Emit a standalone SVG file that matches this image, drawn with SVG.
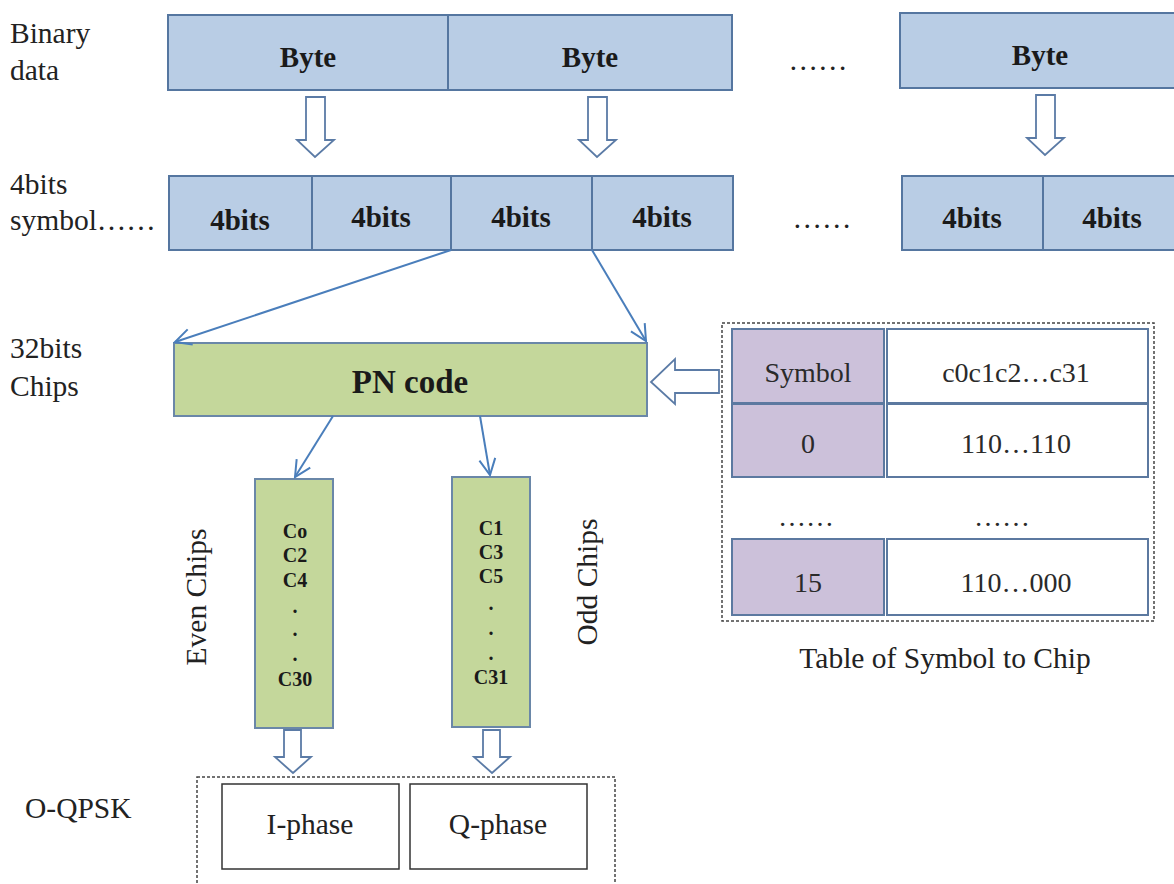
<svg xmlns="http://www.w3.org/2000/svg" width="1174" height="884" viewBox="0 0 1174 884">
  <style>
    .lbl { font-family: 'Liberation Serif', Tinos, 'DejaVu Serif', serif; font-size: 29.5px; fill: #222; }
    .bold { font-family: 'Liberation Serif', Tinos, 'DejaVu Serif', serif; font-weight: bold; fill: #1a1a1a; text-anchor: middle; }
    .cell { font-family: 'Liberation Serif', Tinos, 'DejaVu Serif', serif; font-size: 28px; fill: #2a2a2a; text-anchor: middle; }
    .blue { fill: #b9cde5; stroke: #5576a0; stroke-width: 2; }
    .green { fill: #c4d79b; stroke: #6a87a8; stroke-width: 2; }
    .purple { fill: #ccc1da; stroke: #5c79a0; stroke-width: 2; }
    .white { fill: #ffffff; stroke: #5c79a0; stroke-width: 2; }
    .plain { fill: #ffffff; stroke: #333; stroke-width: 1.5; }
    .hollow { fill: #ffffff; stroke: #5b7ba6; stroke-width: 1.8; stroke-linejoin: miter; }
    .dash { fill: none; stroke: #444; stroke-width: 1.5; stroke-dasharray: 3 2; }
    .link { stroke: #4a7ebb; stroke-width: 2; fill: none; marker-end: url(#vhead); }
  </style>
  <defs>
    <marker id="vhead" viewBox="0 0 20 20" refX="18" refY="10" markerWidth="20" markerHeight="20" markerUnits="userSpaceOnUse" orient="auto">
      <path d="M2,2 L18,10 L2,18" fill="none" stroke="#4a7ebb" stroke-width="2"/>
    </marker>
  </defs>

  <rect width="1174" height="884" fill="#ffffff"/>

  <!-- row labels -->
  <g id="labels">
    <text class="lbl" x="10" y="43">Binary</text>
    <text class="lbl" x="10" y="80">data</text>
    <text class="lbl" x="10" y="194">4bits</text>
    <text class="lbl" x="10" y="230">symbol……</text>
    <text class="lbl" x="10" y="358">32bits</text>
    <text class="lbl" x="10" y="396">Chips</text>
    <text class="lbl" x="25" y="818" font-size="30.5">O-QPSK</text>
  </g>

  <!-- byte row -->
  <g id="byte1">
    <rect class="blue" x="168" y="15" width="280" height="75"/>
    <text class="bold" x="308" y="67" font-size="29">Byte</text>
  </g>
  <g id="byte2">
    <rect class="blue" x="448" y="15" width="284" height="75"/>
    <text class="bold" x="590" y="67" font-size="29">Byte</text>
  </g>
  <text class="lbl" x="818" y="70" text-anchor="middle">……</text>
  <g id="byte3">
    <rect class="blue" x="900" y="13" width="282" height="75"/>
    <text class="bold" x="1040" y="65" font-size="29">Byte</text>
  </g>

  <!-- 4-bit symbol row -->
  <g id="sym1">
    <rect class="blue" x="169" y="176" width="143" height="74"/>
    <text class="bold" x="240" y="230" font-size="29">4bits</text>
  </g>
  <g id="sym2">
    <rect class="blue" x="312" y="176" width="139" height="74"/>
    <text class="bold" x="381" y="227" font-size="29">4bits</text>
  </g>
  <g id="sym3">
    <rect class="blue" x="451" y="176" width="141" height="74"/>
    <text class="bold" x="521" y="227" font-size="29">4bits</text>
  </g>
  <g id="sym4">
    <rect class="blue" x="592" y="176" width="141" height="74"/>
    <text class="bold" x="662" y="227" font-size="29">4bits</text>
  </g>
  <text class="lbl" x="822" y="228" text-anchor="middle">……</text>
  <g id="sym5">
    <rect class="blue" x="902" y="176" width="141" height="74"/>
    <text class="bold" x="972" y="228" font-size="29">4bits</text>
  </g>
  <g id="sym6">
    <rect class="blue" x="1043" y="176" width="140" height="74"/>
    <text class="bold" x="1112" y="228" font-size="29">4bits</text>
  </g>

  <!-- PN code -->
  <g id="pn">
    <rect class="green" x="174" y="343" width="473" height="73"/>
    <text class="bold" x="410" y="393" font-size="33">PN code</text>
  </g>

  <!-- even / odd chip columns -->
  <g id="even">
    <rect class="green" x="255" y="479" width="78" height="249"/>
    <g class="bold" font-size="20">
      <text x="295" y="538">Co</text>
      <text x="295" y="562">C2</text>
      <text x="295" y="587">C4</text>
      <text x="295" y="613">.</text>
      <text x="295" y="636">.</text>
      <text x="295" y="661">.</text>
      <text x="295" y="686">C30</text>
    </g>
    <text class="lbl" font-size="35" text-anchor="middle" transform="translate(206,597) rotate(-90)">Even Chips</text>
  </g>
  <g id="odd">
    <rect class="green" x="452" y="477" width="78" height="250"/>
    <g class="bold" font-size="20">
      <text x="491" y="535">C1</text>
      <text x="491" y="559">C3</text>
      <text x="491" y="583">C5</text>
      <text x="491" y="610">.</text>
      <text x="491" y="635">.</text>
      <text x="491" y="660">.</text>
      <text x="491" y="684">C31</text>
    </g>
    <text class="lbl" font-size="35" text-anchor="middle" transform="translate(597,582) rotate(-90)">Odd Chips</text>
  </g>

  <!-- O-QPSK -->
  <g id="oqpsk">
    <rect class="dash" x="197" y="777" width="418" height="120"/>
    <rect class="plain" x="222" y="784" width="177" height="85"/>
    <text class="lbl" x="310" y="834" text-anchor="middle" font-size="29">I-phase</text>
    <rect class="plain" x="410" y="784" width="177" height="85"/>
    <text class="lbl" x="498" y="834" text-anchor="middle" font-size="29">Q-phase</text>
  </g>

  <!-- symbol-to-chip table -->
  <g id="table">
    <rect class="dash" x="722" y="323" width="432" height="298"/>
    <rect class="purple" x="732" y="329" width="152" height="74"/>
    <rect class="white" x="887" y="329" width="261" height="74"/>
    <rect class="purple" x="732" y="404" width="152" height="73"/>
    <rect class="white" x="887" y="404" width="261" height="73"/>
    <rect class="purple" x="732" y="539" width="152" height="76"/>
    <rect class="white" x="887" y="539" width="261" height="76"/>
    <text class="cell" x="808" y="382">Symbol</text>
    <text class="cell" x="1016" y="382">c0c1c2…c31</text>
    <text class="cell" x="808" y="453">0</text>
    <text class="cell" x="1016" y="453">110…110</text>
    <text class="cell" x="806" y="526">……</text>
    <text class="cell" x="1002" y="526">……</text>
    <text class="cell" x="808" y="592">15</text>
    <text class="cell" x="1016" y="592">110…000</text>
    <text class="lbl" x="945" y="668" text-anchor="middle" font-size="30">Table of Symbol to Chip</text>
  </g>

  <!-- connectors -->
  <g id="connectors">
    <polygon class="hollow" points="306,97 325,97 325,140 334,140 315,157 297,140 306,140"/>
    <polygon class="hollow" points="588,97 607,97 607,140 616,140 597,157 579,140 588,140"/>
    <polygon class="hollow" points="1036,95 1055,95 1055,138 1064,138 1045,155 1027,138 1036,138"/>
    <line class="link" x1="451" y1="250" x2="175" y2="342"/>
    <line class="link" x1="592" y1="250" x2="646" y2="341"/>
    <line class="link" x1="333" y1="416" x2="295" y2="477"/>
    <line class="link" x1="480" y1="416" x2="490" y2="475"/>
    <polygon class="hollow" points="719,370 719,393 675,393 675,404 651,382 675,359 675,370"/>
    <polygon class="hollow" points="284,730 301,730 301,757 311,757 293,773 275,757 284,757"/>
    <polygon class="hollow" points="483,730 500,730 500,757 510,757 492,773 474,757 483,757"/>
  </g>
</svg>
